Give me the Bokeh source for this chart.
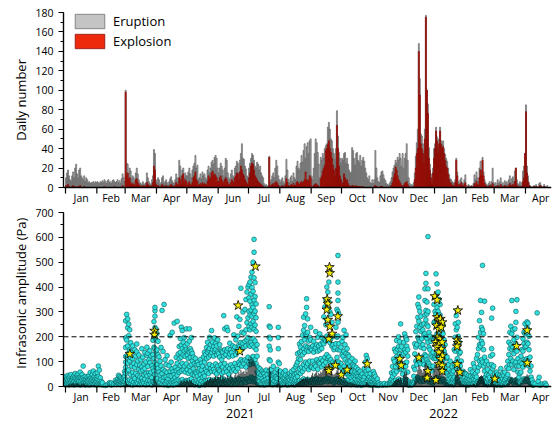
from datetime import date
from bokeh.plotting import figure
from bokeh.models import (ColumnDataSource, Range1d, FixedTicker, Legend, LegendItem, Span)
from bokeh.core.properties import value
from bokeh.layouts import column
from bokeh.embed import file_html
from bokeh.resources import INLINE

FONT = "Open Sans"
T0 = date(2021, 1, 1)

# ---------------- categories / labels ----------------
months = [(2021, m) for m in range(1, 13)] + [(2022, m) for m in range(1, 5)]
month_labels = ["Jan", "Feb", "Mar", "Apr", "May", "Jun", "Jul", "Aug",
                "Sep", "Oct", "Nov", "Dec", "Jan", "Feb", "Mar", "Apr"]
year_labels = ["2021", "2022"]

# ---------------- daily numbers (top panel) ----------------
eruption_2021_01 = [10,15,18,12,8,6,12,16,10,20,24,14,10,18,20,12,10,8,12,6,10,8,5,6,4,5,5,6,4,6,5]
explosion_2021_01 = [2,0,3,1,0,0,1,2,0,1,0,0,1,0,2,0,0,0,1,0,0,0,0,0,0,0,0,0,0,0,0]
eruption_2021_02 = [6,5,4,6,5,7,5,8,6,4,7,8,5,6,4,7,8,6,5,6,8,5,7,4,9,14,10,6]
explosion_2021_02 = [0,0,0,0,0,0,0,1,0,0,0,0,0,0,0,0,0,1,0,0,0,0,0,0,0,2,0,0]
eruption_2021_03 = [100,25,24,14,20,17,9,12,10,6,15,20,14,8,5,4,3,6,4,3,5,15,10,6,4,3,8,12,39,35,8]
explosion_2021_03 = [98,12,15,8,10,5,3,4,3,2,8,9,5,3,2,1,1,2,1,1,2,5,3,2,1,1,2,5,22,18,3]
eruption_2021_04 = [5,10,8,3,5,10,12,4,6,8,5,3,6,9,11,7,5,4,8,14,10,6,28,22,12,18,20,10,15,12]
explosion_2021_04 = [1,2,1,0,1,3,2,0,1,2,1,0,1,2,3,2,1,0,2,5,3,2,10,8,4,12,14,5,8,6]
eruption_2021_05 = [12,16,20,14,10,18,22,25,33,20,23,8,10,14,9,16,12,14,10,8,18,22,15,20,26,28,24,31,33,30,20]
explosion_2021_05 = [2,4,6,3,2,5,10,12,16,8,6,2,3,4,2,5,3,4,3,2,6,12,8,10,15,17,12,14,12,10,6]
eruption_2021_06 = [15,20,25,22,18,12,20,30,28,15,10,8,14,18,12,10,20,22,27,25,15,28,35,45,30,29,22,19,12,10]
explosion_2021_06 = [6,10,12,8,6,4,8,10,8,5,3,2,5,8,6,4,10,12,15,14,8,16,22,18,14,12,8,6,4,3]
eruption_2021_07 = [20,25,30,35,33,28,22,20,26,24,18,22,15,12,10,4,2,3,1,2,32,5,8,12,15,10,20,28,22,12,8]
explosion_2021_07 = [10,15,22,25,24,18,12,10,8,6,5,4,3,2,1,0,0,0,0,0,31,1,2,3,4,2,5,6,4,2,1]
eruption_2021_08 = [5,8,10,6,4,12,29,18,8,5,10,12,6,15,10,8,22,27,20,18,25,33,26,38,45,30,42,46,35,48,50]
explosion_2021_08 = [0,1,2,1,0,3,9,5,2,1,2,3,1,4,2,2,5,6,4,3,5,6,4,6,8,16,7,8,6,12,10]
eruption_2021_09 = [12,8,20,35,50,46,36,24,10,31,28,35,30,40,43,45,62,67,60,50,48,40,35,29,40,79,53,36,30,25]
explosion_2021_09 = [1,0,2,3,4,3,2,1,0,9,12,17,20,23,38,40,44,48,40,36,30,23,18,12,20,64,40,22,12,8]
eruption_2021_10 = [30,28,35,36,25,30,24,18,15,16,41,38,30,23,35,36,28,26,33,22,28,31,27,20,15,10,8,12,5,4,8]
explosion_2021_10 = [3,5,14,10,6,8,4,2,1,1,2,2,1,1,2,1,1,1,1,0,1,1,0,0,0,0,0,0,0,0,0]
eruption_2021_11 = [4,8,38,20,10,6,5,12,16,17,13,9,7,4,3,2,4,6,10,16,20,23,28,25,31,28,35,30,22,35]
explosion_2021_11 = [0,1,2,1,0,0,0,1,1,1,0,0,0,0,0,0,0,1,2,5,10,14,21,18,12,8,6,4,2,1]
eruption_2021_12 = [20,30,35,45,28,10,4,2,3,2,5,15,32,46,60,148,112,55,53,45,38,60,177,100,86,41,24,14,7,20,40]
explosion_2021_12 = [2,4,5,6,3,1,0,0,0,0,1,8,20,35,40,140,95,45,40,35,25,50,175,100,76,30,18,10,4,15,30]
eruption_2022_01 = [45,62,52,40,50,62,48,45,48,40,34,30,27,20,13,9,8,6,5,4,8,30,16,6,4,8,10,5,4,8,13]
explosion_2022_01 = [40,58,48,35,45,58,44,40,42,35,28,22,20,14,8,5,4,2,2,1,5,28,12,3,1,3,5,2,1,3,5]
eruption_2022_02 = [2,1,3,2,1,2,1,4,13,8,16,10,6,20,27,18,31,16,8,5,3,2,4,6,3,6,20,5]
explosion_2022_02 = [0,0,1,0,0,1,0,1,4,2,6,3,2,10,18,12,28,12,4,2,1,0,1,2,1,2,4,1]
eruption_2022_03 = [3,5,2,8,4,6,10,3,5,2,7,4,6,3,8,12,5,9,11,6,17,20,8,4,3,6,2,5,17,22,35]
explosion_2022_03 = [0,1,0,2,1,1,3,0,1,0,2,1,1,0,2,4,1,2,3,1,6,20,2,1,0,1,0,1,6,10,35]
eruption_2022_04 = [85,22,12,5,2,1,0,1,2,0,3,1,0,4,5,2,0,1,3,1,0,2]
explosion_2022_04 = [78,15,6,2,1,0,0,0,1,0,1,0,0,1,2,1,0,0,1,0,0,0]

# ---------------- infrasonic amplitudes, Pa (bottom panel), one list per day ----------------
amp_2021_01 = [[8,22,40],[12,30],[10,25,45],[6,18,35],[14,28,42],
 [10,20,48],[8,32,24],[15,26,38],[6,20,44],[12,35,52],
 [10,18,30],[8,26,46],[14,30,50],[10,22,36],[6,38,58],
 [12,20,34],[8,28,48],[14,36,82],[10,18,30],[6,24,40],
 [12,16,28],[8,22,38],[10,30,20],[6,26,44],[12,32,56],
 [8,20,36],[14,28,48],[10,34,62],[8,22,40],[12,30,52],[6,18,36]]
amp_2021_02 = [[10,30,55],[14,40,82],[8,25,66],[12,35],[10,20],
 [6,15],[],[],[4],[],[8],[],[10,15],[12],[6,14],
 [],[10],[],[12,25],[8,18],[15,30],[10,22,45],[12,28,40],[8,20,35],[15,30],
 [10,25],[12,20,38],[18,42,60]]
amp_2021_03 = [[7,28,53,77,98,121,157,196,264],[14,63,118,187,290],[22,94,163,236,272],[11,67,134,204,251],[27,103,146,228],
 [9,48,117,176],[23,82,137],[6,57,112,163],[17,41,93],[32,76,148],
 [12,53,122],[19,88,139,171],[13,44,103],[26,68,127],[8,38,86],
 [16,61,108],[11,34,79,152],[21,66,118],[14,47,91],[29,72,137],
 [7,52,99],[17,43,126,158],[24,81,133],[9,56,107],[22,47,96,144],
 [13,58,123],[6,36,84],[19,73,128,186],[16,62,113,158,202,261],[11,48,97,153,198,237,283,305,318],
 [23,78,142,188,231]]
amp_2021_04 = [[31,88,147,213],[18,73,128,182],[12,58,119],[16,46,102],[27,83,157],
 [9,52,306],[22,68,141],[7,37,330],[14,62,108],[11,39,88],
 [21,57,124],[4,31],[13,44,83],[8,61,205],[19,42,98],
 [12,71,218],[6,27,59],[17,48,255],[9,36,78],[23,63,117],
 [11,46,93,262],[26,69,131],[9,57,112,161],[21,84,137,193],[14,62,118,167,239],
 [28,93,152,225],[12,67,128,178],[19,82,143,197],[16,58,121,163],[24,91,148,232]]
amp_2021_05 = [[22,68,127,172],[9,53,112,143],[26,81,138,183,232],[14,62,117,152],[31,88,142,197],
 [11,49,103,133],[19,71,118],[7,46,92],[16,58,113],[24,52,87],
 [12,41,98],[17,63,88],[4,29,71],[13,48,109],[21,66,94],
 [9,37,82],[16,53,119],[7,42,98,138],[22,69,128],[13,59,112,157],
 [24,79,138,178],[14,52,118,147],[28,89,153,198],[11,72,127,168],[21,61,137,225],
 [17,83,148,179],[26,68,122,161],[12,58,141,196],[19,91,149,173],[14,51,128,163],
 [29,82,139,188]]
amp_2021_06 = [[21,68,133],[9,62,118,168],[27,88,147],[14,52,108,142],[32,79,138],
 [11,58,122,285],[19,92,148,232],[16,71,128],[24,59,143,238],[12,81,152,225],
 [22,48,119],[13,72,131,174],[29,87,149],[8,62,137],[21,78,123,163],
 [16,68,151,208],[26,93,158],[9,61,128,188],[23,79,147,280],[14,72,139,203],
 [31,98,168,242],[19,88,162,270],[27,108,177,395],[13,82,149,218],[29,101,173,300],
 [18,92,158,214],[24,107,182,310],[16,78,163,228,350],[31,102,188,257,380],[22,118,197,276,400]]
amp_2021_07 = [[28,97,168,243,302,357,410],[21,88,162,228,287,343,420],[38,113,178,252,308,372,440],[26,102,167,238,283,328,398,460],[33,121,193,262,318,383,500],
 [19,92,158,231,293,348,437,540,592],[31,108,183,247,303,362,418],[24,91,148,222,277,332],[16,58,122,168],[11,42,78],
 [19,52],[7,36,71],[14,47],[9,31,62],[21,54],
 [6,24,51],[13,41],[8,29,66],[16,48],[11,34],
 [19,62,108,162,198,243,321],[12,48,103,147,192,238],[14,42,68],[7,31],[13,44,81],
 [21,49],[9,36,58],[16,39],[7,32,69],[11,52,98,152,197,238],
 [14,48,92]]
amp_2021_08 = [[11,29,62],[6,24],[14,41],[9,31,54],[12,36],
 [19,46,64],[9,28],[6,21,39],[16,34],[8,26,51],
 [13,39],[21,44,61],[9,31],[14,42,68],[7,26,49],
 [13,34,79],[19,52,88],[11,41,98,132],[16,58,112],[24,71,138,171],
 [9,52,108,158],[21,78,142,181],[14,61,128,206],[31,88,152,226,279],[19,72,137,188,245],
 [26,98,163,208,292],[14,81,147,203,318,353],[29,92,158,218,272],[21,68,141,183],[24,102,157,198],
 [16,79,152,188,238]]
amp_2021_09 = [[21,78,147],[29,102,163],[14,72,138,182],[26,88,152],[19,81,158,221],
 [31,108,168],[16,69,142,198],[24,98,163],[18,92,147,212],[28,112,171],
 [16,79,153,197],[24,103,178],[21,88,172,280],[29,118,188,320],[26,97,183,248,350],
 [34,128,203,268,400],[19,112,187,310,380],[31,119,198,340,420],[23,102,177,300],[29,108,192,290],
 [21,87,162,258],[26,98,168],[14,82,148,203],[19,91,157],[27,99,172,238],
 [31,117,198,310],[19,82,148,203,258,302,346,376,420,527],[26,98,172,290],[16,78,147],[21,92,158]]
amp_2021_10 = [[19,72,128,182],[16,58,121,198],[24,81,142,226],[11,52,108,168],[21,68,133,208],
 [14,61,98,152],[26,48,92,128],[9,41,78,121],[16,53,102],[7,36,68],
 [21,58,112],[11,42,88],[14,51,82],[8,31,58,102],[13,44,77],
 [6,24,52],[14,41,68],[9,29,56],[12,37,61],[5,21,44],
 [11,29,51],[7,26],[13,39,72],[14,52,98],[9,61,125],
 [21,48,112],[8,31,68],[13,39],[6,24,52],[9,31],[7,19]]
amp_2021_11 = [[10,30,60],[8,25,50],[15,40],[5,20],[10,30],
 [5,15],[8],[],[10],[5],
 [],[8,12],[],[6],[10],
 [],[8,15],[12,25],[10,30,55],[15,40,80],
 [20,60,110],[10,50,100,150],[25,80,140],[15,60,120,185],[20,90,150],
 [30,100,160,200],[15,70,130,180],[25,90,150,252],[20,70,120,160],[10,50,90]]
amp_2021_12 = [[21,68,132,178],[29,92,148,212],[14,81,138,198],[26,98,162,188],[11,58,122,148],
 [5,21],[8,14],[11],[6,12],[9,19],
 [14,41,78],[21,68,131,172],[29,102,158,221],[24,88,168,242],[36,118,198,278,330],
 [28,112,188,262,318,360],[24,98,182,238,302],[19,92,158,222,282],[31,118,192,248],[24,102,168,228],
 [21,88,152,208,252],[34,128,212,288,346,393],[29,122,198,268,306,415,455],[26,108,192,248,292,340],[31,98,178,242,302,393,603],
 [19,92,158,218],[24,82,148,202],[16,68,128,182],[21,62,118],[14,82,138,198],
 [29,112,188,258,330]]
amp_2022_01 = [[31,118,198,262,302,360],[24,112,188,248,291,453],[36,128,212,268,318,413],[29,122,198,258,302,380],[26,108,192,238,282,350],
 [31,118,202,248,288,330],[19,102,168,232,268],[26,108,178,222,258],[29,92,158,212,248],[21,78,142,188],
 [14,72,128,168],[21,58,112],[9,51,118],[16,42,88],[8,31,68],
 [13,44,102],[11,36,58],[14,52,79],[7,31,62],[13,38,92,148],
 [21,78,142,198,252],[26,98,172,228,285],[29,112,178,238,306],[19,92,148,202,258],[16,68,132,178],
 [24,82,138],[11,48,102],[14,41],[9,29,61],[13,36],
 [11,24,52]]
amp_2022_02 = [[7,26,49],[13,34],[6,21,44],[11,29],[14,41,68],
 [9,24],[12,36,58],[11,29,92],[16,44,78],[7,26,51],
 [13,38,112],[19,62,128],[16,78,152,198],[24,102,168,265],[21,88,162,218,346],
 [29,108,182,238,298],[26,98,172,228,487],[19,82,148,212],[14,62,118,343],[11,39,92],
 [16,48,102],[7,31,68],[13,44,88],[9,36],[14,58,122],
 [21,88,152,275],[16,72,128,315],[11,38,82]]
amp_2022_03 = [[9,24,51],[13,39],[6,21,58],[11,29,48],[14,36],
 [7,26,44],[13,38,72],[6,19],[11,31,53],[16,44],
 [8,26,58],[12,34],[9,41,78],[16,48,102],[19,72,128,178],
 [26,88,152,218],[29,112,168,242],[21,88,148,212,346],[24,102,158,228],[14,68,132,188],
 [21,92,148,232],[26,98,172,258,302],[19,82,142,198,349],[16,58,112],[11,38,82],
 [14,52,98],[21,58,122],[24,92,148],[19,78,142,192],[31,108,172,218],
 [26,102,158,212,252]]
amp_2022_04 = [[21,88,162,218],[29,112,178,238,260],[24,98,172,228,255],[19,82,148,202],[14,62,118],
 [11,38,82],[8,26],[5,14],[],[11],
 [],[296],[8,21],[37],[5],
 [],[10],[],[8],[13],
 [5],[]]

# dense low-amplitude core (Pa), one value per day
core_2021_01 = [0,3,6,10,8,12,10,14,10,8,12,14,10,8,6,10,8,12,10,6,5,8,3,6,5,6,3,5,6,3,2]
core_2021_02 = [3,5,2,0,0,0,0,0,0,0,0,0,0,0,0,0,0,0,0,0,0,0,3,2,0,0,3,6]
core_2021_03 = [125,12,10,6,8,5,3,6,3,5,3,6,3,5,3,6,3,5,3,6,3,5,3,6,3,5,3,10,40,200,20]
core_2021_04 = [12,6,3,3,6,3,3,3,3,3,5,3,3,3,3,3,3,3,3,5,6,9,12,18,24,15,21,24,18,27]
core_2021_05 = [24,18,27,21,24,15,12,9,9,6,9,6,3,6,9,6,12,15,18,21,27,24,30,36,27,33,30,36,42,30,39]
core_2021_06 = [38,32,45,28,40,36,30,38,28,45,32,36,48,40,36,32,45,52,40,48,58,50,66,55,58,62,50,66,58,75]
core_2021_07 = [110,100,120,105,110,100,95,80,18,9,6,6,5,5,6,3,5,5,6,6,80,60,5,5,6,5,6,9,12,70,12]
core_2021_08 = [6,3,6,5,6,9,6,3,6,5,6,9,6,9,5,9,12,15,18,21,24,27,30,33,30,36,33,39,30,33,36]
core_2021_09 = [45,55,40,50,55,60,45,55,50,60,55,65,70,75,80,85,75,80,65,70,55,50,45,50,55,65,75,55,45,50]
core_2021_10 = [30,27,33,24,27,21,18,15,18,12,15,12,12,9,9,6,9,6,7,5,6,5,6,9,18,15,9,6,5,3,3]
core_2021_11 = [6,5,3,2,2,0,0,0,0,0,0,0,0,0,0,0,0,3,6,9,15,21,24,27,30,33,27,36,27,15]
core_2021_12 = [45,55,50,60,38,3,3,0,0,3,9,25,42,50,65,85,80,70,65,55,65,90,95,85,80,65,55,45,38,50,70]
core_2022_01 = [85,90,95,85,80,75,65,60,50,42,38,28,18,13,9,10,9,10,7,13,45,65,75,55,38,24,13,7,9,7,7]
core_2022_02 = [7,8,5,7,8,5,8,10,10,7,14,21,28,38,42,45,42,32,21,10,10,7,10,7,14,28,24,10]
core_2022_03 = [7,8,5,7,8,5,7,3,7,8,7,5,10,14,24,32,38,35,32,24,35,38,28,14,8,10,14,21,28,35,38]
core_2022_04 = [42,49,45,35,21,10,5,3,0,0,0,0,0,0,0,0,0,0,0,0,0,0]

# explosion-related events (stars): day since 2021-01-01, amplitude (Pa)
star_day = [63.6, 88.0, 88.0, 170.8, 172.4, 187.9, 261.1, 261.4, 258.8, 259.5, 258.5, 259.5, 261.4, 263.7,
            260.4, 269.4, 260.4, 260.4, 267.0, 272.7, 278.6, 298.4, 330.7, 332.0, 349.5, 358.4, 357.7,
            365.3, 367.6, 367.6, 369.3, 370.9, 372.6, 367.0, 369.3, 371.6, 367.6, 370.3, 366.0, 369.3,
            372.6, 367.6, 371.6, 369.3, 372.6, 370.9, 369.3, 372.6, 372.6, 366.3, 388.1, 387.4, 388.1,
            387.4, 387.4, 390.0, 424.7, 446.1, 456.7, 456.7]
star_amp = [131, 224, 208, 326, 142, 483, 480, 456, 351, 333, 309, 268, 241, 212,
            192, 282, 71, 62, 85, 47, 67, 91, 111, 85, 116, 62, 35,
            363, 348, 279, 265, 272, 258, 245, 231, 238, 198, 192, 178, 171,
            178, 158, 151, 137, 124, 110, 90, 84, 62, 26, 306, 188, 175,
            161, 90, 57, 31, 163, 226, 95]

eruption_months = [eruption_2021_01, eruption_2021_02, eruption_2021_03, eruption_2021_04,
                   eruption_2021_05, eruption_2021_06, eruption_2021_07, eruption_2021_08,
                   eruption_2021_09, eruption_2021_10, eruption_2021_11, eruption_2021_12,
                   eruption_2022_01, eruption_2022_02, eruption_2022_03, eruption_2022_04]
explosion_months = [explosion_2021_01, explosion_2021_02, explosion_2021_03, explosion_2021_04,
                    explosion_2021_05, explosion_2021_06, explosion_2021_07, explosion_2021_08,
                    explosion_2021_09, explosion_2021_10, explosion_2021_11, explosion_2021_12,
                    explosion_2022_01, explosion_2022_02, explosion_2022_03, explosion_2022_04]
amp_months = [amp_2021_01, amp_2021_02, amp_2021_03, amp_2021_04, amp_2021_05, amp_2021_06,
              amp_2021_07, amp_2021_08, amp_2021_09, amp_2021_10, amp_2021_11, amp_2021_12,
              amp_2022_01, amp_2022_02, amp_2022_03, amp_2022_04]
core_months = [core_2021_01, core_2021_02, core_2021_03, core_2021_04, core_2021_05, core_2021_06,
               core_2021_07, core_2021_08, core_2021_09, core_2021_10, core_2021_11, core_2021_12,
               core_2022_01, core_2022_02, core_2022_03, core_2022_04]


def day_of(y, m):
    return (date(y, m, 1) - T0).days


month_start = [day_of(y, m) for (y, m) in months]
month_end = month_start[1:] + [day_of(2022, 5)]
month_mid = [s + (e - s) / 2 for s, e in zip(month_start, month_end)]
# year captions sit below the month row (as placed in the original figure)
year_pos = [day_of(2021, 6) + 22, day_of(2022, 1) + 9]

bx, be, bxp = [], [], []
for s, E, X in zip(month_start, eruption_months, explosion_months):
    for i, (e, x) in enumerate(zip(E, X)):
        bx.append(s + i + 0.5)
        be.append(e)
        bxp.append(x)
bars = ColumnDataSource(dict(x=bx, eruption=be, explosion=bxp))

sx, sy = [], []
for s, A in zip(month_start, amp_months):
    for i, vals in enumerate(A):
        for v in vals:
            sx.append(s + i + 0.5)
            sy.append(v)
dots = ColumnDataSource(dict(x=sx, y=sy))

cx, cy = [], []
for s, C in zip(month_start, core_months):
    for i, v in enumerate(C):
        if v > 0:
            cx.append(s + i + 0.5)
            cy.append(v)
cores = ColumnDataSource(dict(x=cx, top=cy))
stars = ColumnDataSource(dict(x=star_day, y=star_amp))

# ---------------- layout geometry (pixels) ----------------
W = 554
LEFT, RIGHT = 63, 3
PX_PER_DAY = 1.011
X_START = -2 / PX_PER_DAY
X_END = X_START + (W - LEFT - RIGHT) / PX_PER_DAY
xr = Range1d(X_START, X_END)

TOP_H, TOP_MB = 207, 12            # figure height, frame top
TOP_PLOT_PX = 175                  # 0..180 spans 175 px
TOP_SCALE = TOP_PLOT_PX / 180.0
TOP_BELOW = TOP_H - TOP_MB - TOP_PLOT_PX

BOT_H, BOT_MB = 217, 5
BOT_PLOT_PX = 174
BOT_SCALE = BOT_PLOT_PX / 700.0
BOT_BELOW = BOT_H - BOT_MB - BOT_PLOT_PX

TICK_PX = 6
NBSP = "\u00a0"


def make_fig(height, top_border, y_end, scale, below_px, yticks, yminor, ylabel, lift):
    p = figure(width=W, height=height, x_range=xr,
               y_range=Range1d(-below_px / scale, y_end),
               output_backend="svg", toolbar_location=None, tools="",
               x_axis_location=None,
               min_border_left=LEFT, min_border_right=RIGHT,
               min_border_top=top_border, min_border_bottom=0)
    p.outline_line_color = None
    p.grid.visible = False
    ya = p.yaxis[0]
    ya.bounds = (0, y_end)
    ya.ticker = FixedTicker(ticks=yticks, minor_ticks=yminor)
    ya.major_tick_out = 5
    ya.major_tick_in = 0
    ya.minor_tick_out = 3
    ya.minor_tick_in = 0
    ya.major_tick_line_color = "black"
    ya.minor_tick_line_color = "black"
    ya.major_tick_line_width = 1.1
    ya.axis_line_width = 1.4
    ya.axis_line_color = "black"
    ya.major_label_standoff = 5
    ya.major_label_text_font = FONT
    ya.major_label_text_font_size = "10.5px"
    ya.major_label_text_color = "black"
    # leading no-break spaces lift the caption so that it centres on the 0..max part of the axis
    ya.axis_label = NBSP * lift + ylabel
    ya.axis_label_text_font = FONT
    ya.axis_label_text_font_size = "13px"
    ya.axis_label_text_font_style = "normal"
    ya.axis_label_text_color = "black"
    ya.axis_label_standoff = 2
    return p


def draw_time_axis(p, scale, label_px):
    # axis line at zero, month-boundary ticks pointing down, month names mid-month
    p.add_layout(Span(location=0, dimension="width", line_color="black", line_width=1.4))
    p.segment(x0=month_start, y0=[0] * len(month_start), x1=month_start,
              y1=[-TICK_PX / scale] * len(month_start), line_color="black", line_width=1.2)
    p.text(x=month_mid, y=[-label_px / scale] * len(month_mid), text=month_labels,
           text_font=value(FONT), text_font_size=value("10.5px"), text_color="black",
           text_align="center", text_baseline="middle")


# ---------------- top panel ----------------
p1 = make_fig(TOP_H, TOP_MB, 180, TOP_SCALE, TOP_BELOW,
              list(range(0, 181, 20)), list(range(0, 181, 10)), "Daily number", 6)
r_e = p1.vbar(x="x", top="eruption", width=1.0, source=bars,
              fill_color="#c4c4c4", line_color="#4e4e4e", line_width=0.6)
r_x = p1.vbar(x="x", top="explosion", width=1.0, source=bars,
              fill_color="#ee2a0c", line_color="#7a0505", line_width=0.7)
draw_time_axis(p1, TOP_SCALE, 10)

legend = Legend(items=[LegendItem(label="Eruption", renderers=[r_e]),
                       LegendItem(label="Explosion", renderers=[r_x])],
                location=(8, TOP_BELOW + TOP_PLOT_PX - 38), orientation="vertical",
                glyph_width=37, glyph_height=18, label_height=18, spacing=2,
                padding=0, margin=0, label_standoff=5,
                label_text_font=FONT, label_text_font_size="13px", label_text_color="black",
                border_line_color=None, background_fill_alpha=0)
p1.add_layout(legend)

# ---------------- bottom panel ----------------
p2 = make_fig(BOT_H, BOT_MB, 700, BOT_SCALE, BOT_BELOW,
              list(range(0, 701, 100)), list(range(0, 701, 50)), "Infrasonic amplitude (Pa)", 15)
p2.scatter(x="x", y="y", source=dots, size=4.8, marker="circle",
           fill_color="#2fe0dc", line_color="#075a5a", line_width=0.6)
p2.vbar(x="x", top="top", width=0.85, source=cores, fill_color="#020808",
        line_color=None, fill_alpha=0.85)
p2.scatter(x="x", y="y", source=stars, size=10, marker="star",
           fill_color="#f5ee00", line_color="black", line_width=0.8)
p2.add_layout(Span(location=200, dimension="width", line_color="black",
                   line_width=1, line_dash="5 3"))
draw_time_axis(p2, BOT_SCALE, 10)
p2.text(x=year_pos, y=[-26.5 / BOT_SCALE] * 2, text=year_labels,
        text_font=value(FONT), text_font_size=value("12.5px"), text_color="black",
        text_align="center", text_baseline="middle")

layout = column(p1, p2, spacing=0)
open("out.html", "w").write(file_html(layout, INLINE))
